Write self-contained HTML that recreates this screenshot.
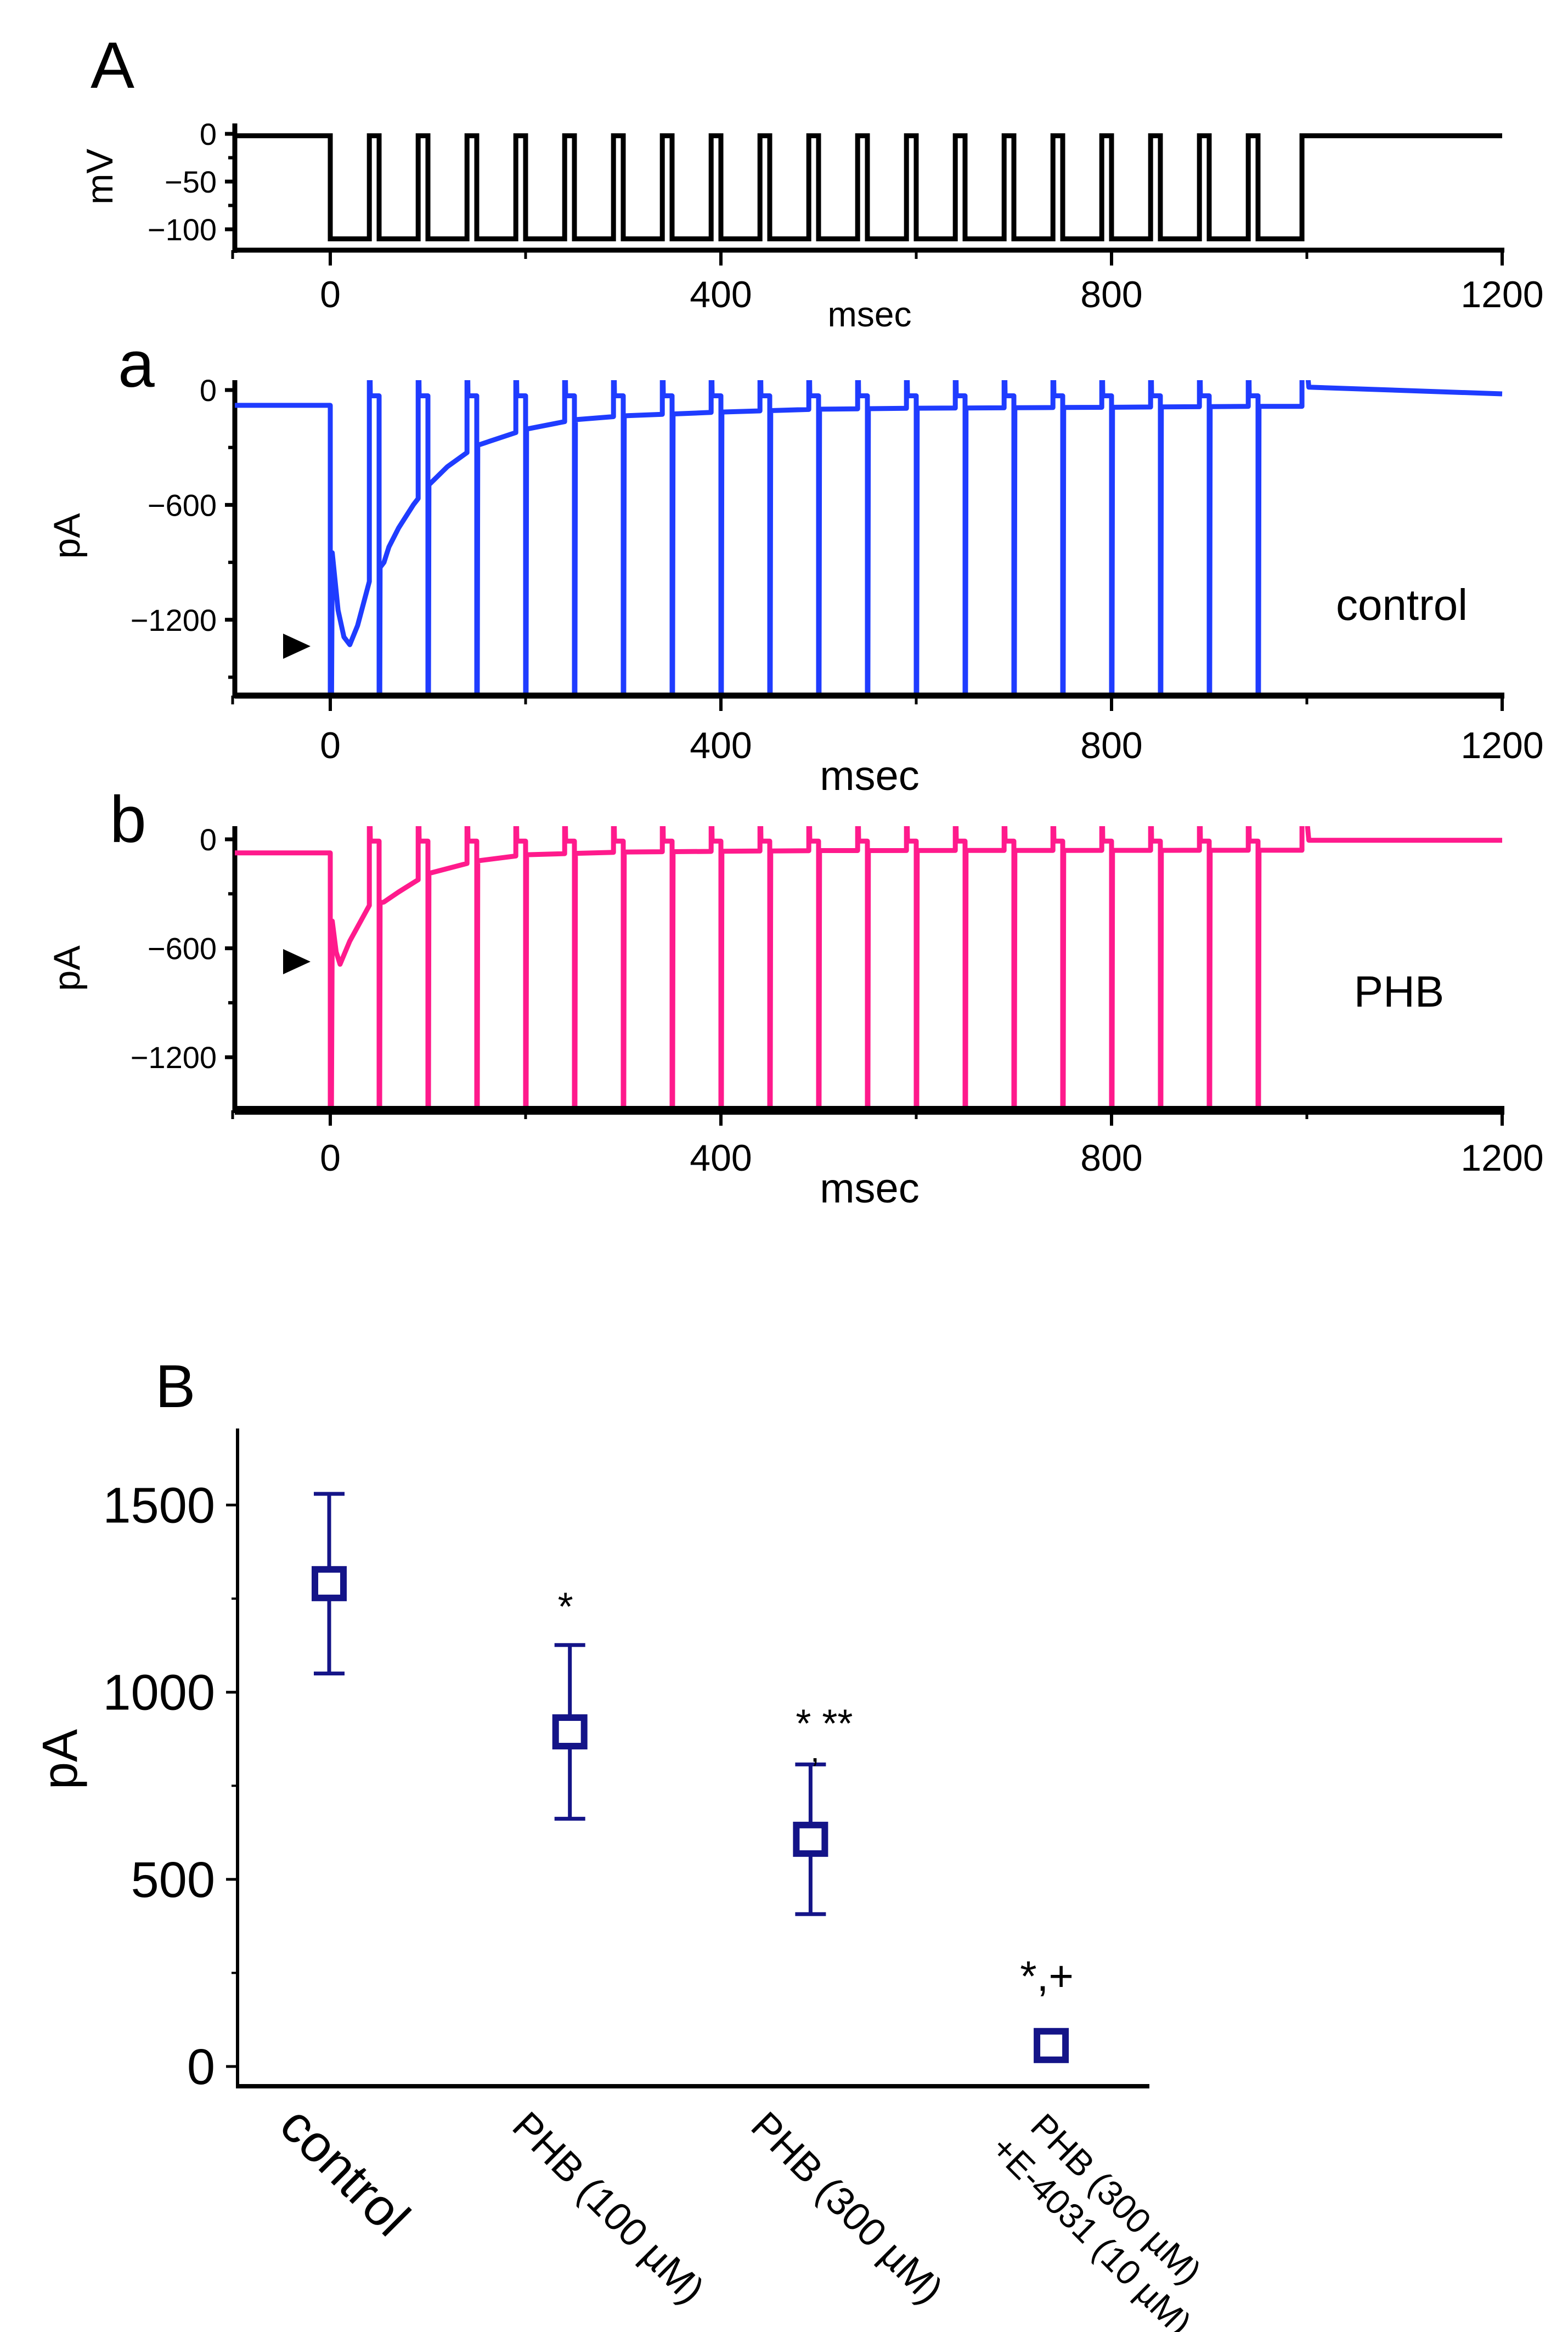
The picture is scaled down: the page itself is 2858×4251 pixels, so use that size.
<!DOCTYPE html>
<html><head><meta charset="utf-8"><style>
html,body{margin:0;padding:0;background:#fff}
svg{display:block}
text{font-family:"Liberation Sans Narrow","Liberation Sans",Arial,sans-serif;fill:#000}
</style></head><body>
<svg id="fig" width="2858" height="4251" viewBox="0 0 2858 4251" xmlns="http://www.w3.org/2000/svg">
<defs>
<clipPath id="clipA"><rect x="428" y="225" width="2315" height="231"/></clipPath>
<clipPath id="clipa"><rect x="428" y="693" width="2315" height="575"/></clipPath>
<clipPath id="clipb"><rect x="428" y="1506" width="2315" height="518"/></clipPath>
</defs>
<text x="165" y="160" font-size="120" style="font-family:'Liberation Sans',sans-serif">A</text>
<text x="215" y="705" font-size="120" style="font-family:'Liberation Sans',sans-serif">a</text>
<text x="200" y="1535" font-size="120" style="font-family:'Liberation Sans',sans-serif">b</text>
<text x="283" y="2565" font-size="110" style="font-family:'Liberation Sans',sans-serif">B</text>
<g id="gA"></g>
<g id="ga"></g>
<g id="gb"></g>
<g id="gB"></g>
</svg>
<script>
// ---- data: voltage protocol ----
const vHold = -2;
const vTest = -110;
const pulseStarts = [40,90,140,190,240,290,340,390,440,490,540,590,640,690,740,790,840,890,940];
const pulseWidth = 10;
const stepEnd = 995;
// ---- data: control trace (ms, pA) ----
const ctrlEnvT = [2,8,14,20,28,40,55,60,70,85,100,120,150,200,250,300,400,500,600,800,950,1000];
const ctrlEnvV = [-850,-1150,-1290,-1330,-1230,-1000,-900,-820,-720,-600,-500,-400,-290,-205,-155,-135,-115,-100,-95,-90,-85,-85];
const ctrlPre = -80;
const ctrlPostT = [1000,1200];
const ctrlPostV = [15,-20];
const ctrlPulseLevel = -30;
// ---- data: PHB trace ----
const phbEnvT = [2,6,10,20,40,55,70,100,150,200,300,500,1000];
const phbEnvV = [-450,-620,-688,-560,-364,-345,-290,-189,-119,-85,-70,-62,-60];
const phbPre = -75;
const phbPostT = [1000,1200];
const phbPostV = [-5,-5];
const phbPulseLevel = -10;
// ---- ticks ----
const xTickMajor = [0,400,800,1200];
const xTickMinor = [-100,200,600,1000];
const mvTicks = [0,-50,-100];
const mvMinor = [-25,-75];
const paTicks = [0,-600,-1200];
const paMinor = [-300,-900,-1500];
// ---- data: summary chart ----
const cats = ["control","PHB (100 µM)","PHB (300 µM)","PHB (300 µM)|+E-4031 (10 µM)"];
const means = [1290,894,607,56];
const errs = [240,232,200,0];
const sigs = ["*","* **","*,+"];
const bTicks = [0,500,1000,1500];
const bMinor = [250,750,1250];

const NS="http://www.w3.org/2000/svg";
function el(parent,tag,attrs,txt){const e=document.createElementNS(NS,tag);for(const k in attrs)e.setAttribute(k,attrs[k]);if(txt!==undefined)e.textContent=txt;parent.appendChild(e);return e;}
const xs = t => 602 + t*1.78;

function interp(T,V,t){if(t<=T[0])return V[0];for(let i=1;i<T.length;i++){if(t<=T[i]){const f=(t-T[i-1])/(T[i]-T[i-1]);return V[i-1]+f*(V[i]-V[i-1]);}}return V[V.length-1];}

function xAxis(g,yAx,labelY,msecY,msecSize,thick){
  const ax=el(g,'line',{x1:428,y1:yAx,x2:2742,y2:yAx,stroke:'#000','stroke-width':thick});
  
  
  xTickMajor.forEach(t=>{
    const l=el(g,'line',{x1:xs(t),y1:yAx,x2:xs(t),y2:yAx+28,stroke:'#000','stroke-width':6});
    
    
    const tx=el(g,'text',{x:xs(t),y:labelY,'font-size':68,'text-anchor':'middle'},String(t));
    
    
  });
  xTickMinor.forEach(t=>{
    const l=el(g,'line',{x1:xs(t),y1:yAx,x2:xs(t),y2:yAx+16,stroke:'#000','stroke-width':5});
    
    
  });
  const m=el(g,'text',{x:1585,y:msecY,'font-size':msecSize,'text-anchor':'middle'},'msec');
  
  
}
function yAxis(g,top,bottom,ticks,minor,yf,labels,title,titleX,titleY){
  const ax=el(g,'line',{x1:428,y1:top,x2:428,y2:bottom+5,stroke:'#000','stroke-width':9});
  
  
  ticks.forEach(v=>{
    const l=el(g,'line',{x1:410,y1:yf(v),x2:428,y2:yf(v),stroke:'#000','stroke-width':7});
    
    
    const tx=el(g,'text',{x:395,y:yf(v)+20,'font-size':56,'text-anchor':'end'},String(v).replace('-','−'));
    
    
  });
  minor.forEach(v=>{const y=yf(v);if(y<top||y>bottom)return;
    const l=el(g,'line',{x1:416,y1:y,x2:428,y2:y,stroke:'#000','stroke-width':6});
    
    
  });
  const t=el(g,'text',{x:titleX,y:titleY,'font-size':68,'text-anchor':'middle',transform:`rotate(-90 ${titleX} ${titleY})`,style:"font-family:'Liberation Sans',sans-serif"},title);
  
  
}

// ---- Panel A ----
(function(){
  const g=document.getElementById('gA');
  const vy=v=>244 - v*1.74;
  yAxis(g,225,456,mvTicks,mvMinor,vy,null,'mV',205,322);
  xAxis(g,456,560,595,64,9);
  let d=`M${xs(-110)},${vy(vHold)} L${xs(0)},${vy(vHold)} L${xs(0)},${vy(vTest)}`;
  pulseStarts.forEach(p=>{d+=` L${xs(p)},${vy(vTest)} L${xs(p)},${vy(vHold)} L${xs(p+pulseWidth)},${vy(vHold)} L${xs(p+pulseWidth)},${vy(vTest)}`;});
  d+=` L${xs(stepEnd)},${vy(vTest)} L${xs(stepEnd)},${vy(vHold)} L${xs(1200)},${vy(vHold)}`;
  const p=el(g,'path',{d:d,fill:'none',stroke:'#000','stroke-width':9,'clip-path':'url(#clipA)'});
  
  
})();

function currentTrace(g,yf,envT,envV,pre,postT,postV,lvl,color,clip,name){
  const TOP=400, BOT=-3000;
  let pts=[[-110,pre],[0,pre],[0,BOT]];
  const starts=pulseStarts;
  let cur=1;
  for(let i=0;i<starts.length;i++){
    const s=starts[i];
    envT.forEach((tt,j)=>{if(tt>=cur&&tt<s)pts.push([tt,envV[j]]);});
    pts.push([s,interp(envT,envV,s)]);
    pts.push([s,TOP]);pts.push([s+1,lvl]);pts.push([s+pulseWidth,lvl]);pts.push([s+pulseWidth,BOT]);
    cur=s+pulseWidth+1;
    pts.push([cur,interp(envT,envV,cur)]);
  }
  envT.forEach((tt,j)=>{if(tt>cur&&tt<stepEnd)pts.push([tt,envV[j]]);});
  pts.push([stepEnd,interp(envT,envV,stepEnd)]);
  pts.push([stepEnd,TOP]);
  postT.forEach((tt,j)=>pts.push([tt+(j==0?2:0),postV[j]]));
  const d='M'+pts.map(p=>xs(p[0]).toFixed(1)+','+yf(p[1]).toFixed(1)).join(' L');
  const p=el(g,'path',{d:d,fill:'none',stroke:color,'stroke-width':9,'stroke-linejoin':'round','clip-path':clip});
  
  
}

// ---- Panel a ----
(function(){
  const g=document.getElementById('ga');
  const yf=p=>711 - p*0.349;
  yAxis(g,693,1268,paTicks,paMinor,yf,null,'pA',145,977);
  currentTrace(g,yf,ctrlEnvT,ctrlEnvV,ctrlPre,ctrlPostT,ctrlPostV,ctrlPulseLevel,'#1f3cff','url(#clipa)','control-trace');
  xAxis(g,1268,1382,1440,76,11);
  const ar=el(g,'polygon',{points:'516,1155 566,1178 516,1201',fill:'#000'});
  
  
  const t=el(g,'text',{x:2555,y:1130,'font-size':80,'text-anchor':'middle',style:"font-family:'Liberation Sans',sans-serif"},'control');
  
  
})();

// ---- Panel b ----
(function(){
  const g=document.getElementById('gb');
  const yf=p=>1530 - p*0.331;
  yAxis(g,1506,2024,paTicks,paMinor,yf,null,'pA',145,1765);
  currentTrace(g,yf,phbEnvT,phbEnvV,phbPre,phbPostT,phbPostV,phbPulseLevel,'#ff1a8c','url(#clipb)','phb-trace');
  xAxis(g,2024,2134,2192,76,16);
  const ar=el(g,'polygon',{points:'516,1730 566,1753 516,1776',fill:'#000'});
  
  
  const t=el(g,'text',{x:2550,y:1835,'font-size':80,'text-anchor':'middle',style:"font-family:'Liberation Sans',sans-serif"},'PHB');
  
  
})();

// ---- Panel B ----
(function(){
  const g=document.getElementById('gB');
  const yf=v=>3767 - v*0.6823;
  const xc=i=>600 + i*438.7;
  const navy='#141488';
  const ya=el(g,'line',{x1:433,y1:2604,x2:433,y2:3806,stroke:'#000','stroke-width':6});
  
  
  const xa=el(g,'line',{x1:430,y1:3803,x2:2095,y2:3803,stroke:'#000','stroke-width':8});
  
  
  bTicks.forEach(v=>{
    const l=el(g,'line',{x1:412,y1:yf(v),x2:433,y2:yf(v),stroke:'#000','stroke-width':5});
    
    
    const t=el(g,'text',{x:392,y:yf(v)+32,'font-size':92,'text-anchor':'end'},String(v));
    
    
  });
  bMinor.forEach(v=>{
    const l=el(g,'line',{x1:422,y1:yf(v),x2:433,y2:yf(v),stroke:'#000','stroke-width':4});
    
    
  });
  const yt=el(g,'text',{x:140,y:3207,'font-size':90,'text-anchor':'middle',transform:'rotate(-90 140 3207)',style:"font-family:'Liberation Sans',sans-serif"},'pA');
  
  
  means.forEach((m,i)=>{
    const x=xc(i);
    if(errs[i]>0){
      const e=el(g,'path',{d:`M${x},${yf(m+errs[i])} L${x},${yf(m-errs[i])} M${x-28},${yf(m+errs[i])} L${x+28},${yf(m+errs[i])} M${x-28},${yf(m-errs[i])} L${x+28},${yf(m-errs[i])}`,stroke:navy,'stroke-width':7,fill:'none'});
      
      
    }
    const r=el(g,'rect',{x:x-26,y:yf(m)-26,width:52,height:52,fill:'#fff',stroke:navy,'stroke-width':12});
    
    
  });
  const s1=el(g,'text',{x:xc(1)-8,y:yf(means[1]+errs[1])-45,'font-size':72,'text-anchor':'middle',style:"font-family:'Liberation Sans',sans-serif"},sigs[0]);
  
  
  const s2=el(g,'text',{x:xc(2)+25,y:yf(means[2]+errs[2])-50,'font-size':72,'text-anchor':'middle',style:"font-family:'Liberation Sans',sans-serif"},sigs[1]);
  
  
  const c2=el(g,'text',{x:xc(2)+8,y:yf(means[2]+errs[2])-5,'font-size':60,'text-anchor':'middle'},',');
  
  
  const s3=el(g,'text',{x:xc(3)-8,y:yf(means[3])-100,'font-size':78,'text-anchor':'middle',style:"font-family:'Liberation Sans',sans-serif"},sigs[2]);
  
  
  const lx=[505,930,1365,1875];
  const fs=[95,72,72,64];
  cats.forEach((c,i)=>{
    const parts=c.split('|');
    parts.forEach((p,j)=>{
      const x=lx[i]-j*72, y=3880+j*40;
      const t=el(g,'text',{x:x,y:y,'font-size':fs[i],transform:`rotate(45 ${x} ${y})`,style:"font-family:'Liberation Sans',sans-serif"},p);
      
      
    });
  });
})();
</script>
</body></html>
